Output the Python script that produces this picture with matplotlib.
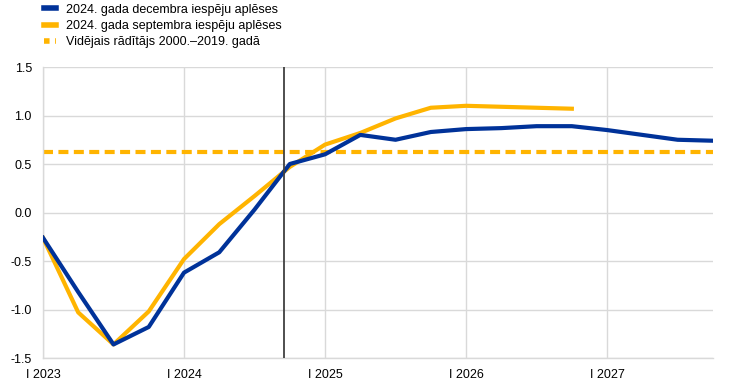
import matplotlib
matplotlib.use('Agg')
import matplotlib.pyplot as plt
from matplotlib.lines import Line2D

plt.rcParams['font.family'] = ['Liberation Sans', 'DejaVu Sans']

# quarters 2023 Q1 .. 2027 Q4 (index 0..19)
quarters = list(range(20))
dec_2024 = [-0.26, -0.82, -1.36, -1.18, -0.62, -0.41, 0.03, 0.50, 0.60, 0.80,
            0.75, 0.83, 0.86, 0.87, 0.89, 0.89, 0.85, 0.80, 0.75, 0.74]
sep_2024 = [-0.26, -1.03, -1.36, -1.02, -0.48, -0.12, 0.17, 0.47, 0.70, 0.82,
            0.97, 1.08, 1.10, 1.09, 1.08, 1.07]
avg_2000_2019 = 0.62
cutoff = 6.85
tick_pos = [0, 4, 8, 12, 16]
tick_labels = ['I 2023', 'I 2024', 'I 2025', 'I 2026', 'I 2027']
labels = ['2024. gada decembra iespēju aplēses',
          '2024. gada septembra iespēju aplēses',
          'Vidējais rādītājs 2000.–2019. gadā']

blue = '#003299'
yellow = '#FFB400'
grid = '#d9d9d9'

fig = plt.figure(figsize=(7.46, 3.88), dpi=100)
ax = fig.add_axes([0.0576, 0.0773, 0.898, 0.75])

ax.axhline(avg_2000_2019, color=yellow, lw=3, dashes=(2.4, 1.3), zorder=2)
ax.plot(quarters[:len(sep_2024)], sep_2024, color=yellow, lw=3, zorder=3)
ax.plot(quarters, dec_2024, color=blue, lw=3, zorder=4)
ax.axvline(cutoff, color='#404040', lw=1.3, zorder=5)

ax.set_xlim(0, 19)
ax.set_ylim(-1.5, 1.5)
ax.set_yticks([-1.5, -1.0, -0.5, 0.0, 0.5, 1.0, 1.5])
ax.set_yticklabels([f'{v:.1f}' for v in [-1.5, -1.0, -0.5, 0.0, 0.5, 1.0, 1.5]])
ax.set_xticks(tick_pos)
ax.set_xticklabels(tick_labels)
ax.tick_params(length=0, labelsize=9, colors='#000000')
ax.tick_params(axis='y', pad=8)
ax.tick_params(axis='x', pad=8)
ax.grid(True, color=grid, lw=1)
ax.set_axisbelow(True)
for s in ['top', 'right']:
    ax.spines[s].set_visible(False)
for s in ['left', 'bottom']:
    ax.spines[s].set_color(grid)
    ax.spines[s].set_linewidth(1)

handles = [Line2D([], [], color=blue, lw=4),
           Line2D([], [], color=yellow, lw=4),
           Line2D([], [], color=yellow, lw=4, dashes=(1, 1))]
fig.legend(handles, labels, loc='upper left', bbox_to_anchor=(0.055, 0.997),
           frameon=False, fontsize=9, handlelength=1.0, handletextpad=0.8,
           labelspacing=0.35, borderaxespad=0, borderpad=0.2)

fig.savefig('out.png', dpi=100)
